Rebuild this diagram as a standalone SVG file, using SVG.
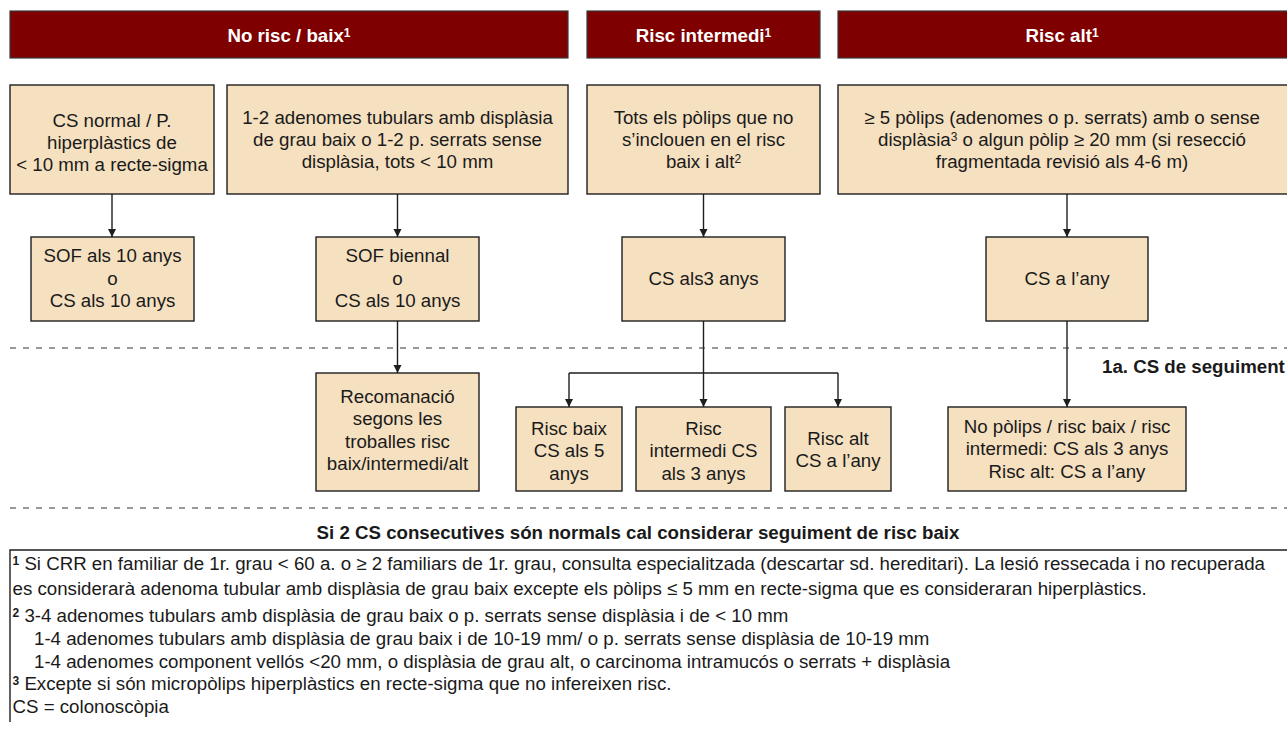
<svg xmlns="http://www.w3.org/2000/svg" width="1287" height="731" viewBox="0 0 1287 731">
<defs>
<marker id="ah" markerUnits="userSpaceOnUse" markerWidth="9" markerHeight="9" refX="8" refY="4.5" orient="auto">
<path d="M0,0.5 L8,4.5 L0,8.5 z" fill="#1e1e1e"/>
</marker>
<style>
.hdr{fill:#7f0000;stroke:#3a3a3a;stroke-width:1.2}
.box{fill:#f5e0c0;stroke:#1e1e1e;stroke-width:1.4}
.t{font-family:"Liberation Sans",Arial,sans-serif;font-size:18.7px;fill:#1a1a1a;text-anchor:middle}
.ht{font-family:"Liberation Sans",Arial,sans-serif;font-size:18.7px;font-weight:bold;fill:#ffffff;text-anchor:middle}
.bt{font-family:"Liberation Sans",Arial,sans-serif;font-size:18.7px;font-weight:bold;fill:#1a1a1a}
.fn{font-family:"Liberation Sans",Arial,sans-serif;font-size:18.7px;fill:#1a1a1a}
.sup{font-size:12px}
.supb{font-size:12px;font-weight:bold}
.con{fill:none;stroke:#1e1e1e;stroke-width:1.4}
.dash{fill:none;stroke:#333333;stroke-width:1.2;stroke-dasharray:6 7}
</style>
</defs>
<rect width="1287" height="731" fill="#ffffff"/>

<g id="header-baix">
<rect class="hdr" x="10" y="11" width="558" height="47"/>
<text class="ht" x="289" y="42">No risc / baix<tspan class="sup" dy="-5">1</tspan></text>
</g>
<g id="header-intermedi">
<rect class="hdr" x="587" y="11" width="233" height="47"/>
<text class="ht" x="703.5" y="42">Risc intermedi<tspan class="sup" dy="-5">1</tspan></text>
</g>
<g id="header-alt">
<rect class="hdr" x="838" y="11" width="460" height="47"/>
<text class="ht" x="1062" y="42">Risc alt<tspan class="sup" dy="-5">1</tspan></text>
</g>

<g id="b1">
<rect class="box" x="10" y="85" width="204" height="109"/>
<text class="t" x="112" y="127">CS normal / P.</text>
<text class="t" x="112" y="149">hiperplàstics de</text>
<text class="t" x="112" y="171">&lt; 10 mm a recte-sigma</text>
</g>
<g id="b2">
<rect class="box" x="227" y="85" width="341" height="109"/>
<text class="t" x="397.5" y="124">1-2 adenomes tubulars amb displàsia</text>
<text class="t" x="397.5" y="146">de grau baix o 1-2 p. serrats sense</text>
<text class="t" x="397.5" y="168">displàsia, tots &lt; 10 mm</text>
</g>
<g id="b3">
<rect class="box" x="587" y="85" width="233" height="109"/>
<text class="t" x="703.5" y="124">Tots els pòlips que no</text>
<text class="t" x="703.5" y="146">s’inclouen en el risc</text>
<text class="t" x="703.5" y="168">baix i alt<tspan class="sup" dy="-5">2</tspan></text>
</g>
<g id="b4">
<rect class="box" x="838" y="85" width="460" height="109"/>
<text class="t" x="1062" y="124">≥ 5 pòlips (adenomes o p. serrats) amb o sense</text>
<text class="t" x="1062" y="146">displàsia<tspan class="sup" dy="-5">3</tspan><tspan dy="5"> o algun pòlip ≥ 20 mm (si resecció</tspan></text>
<text class="t" x="1062" y="168">fragmentada revisió als 4-6 m)</text>
</g>

<g id="sof1">
<rect class="box" x="31" y="237" width="163" height="84"/>
<text class="t" x="112.5" y="262">SOF als 10 anys</text>
<text class="t" x="112.5" y="285">o</text>
<text class="t" x="112.5" y="307">CS als 10 anys</text>
</g>
<g id="sof2">
<rect class="box" x="316" y="237" width="163" height="84"/>
<text class="t" x="397.5" y="262">SOF biennal</text>
<text class="t" x="397.5" y="285">o</text>
<text class="t" x="397.5" y="307">CS als 10 anys</text>
</g>
<g id="cs3">
<rect class="box" x="622" y="237" width="163" height="84"/>
<text class="t" x="703.5" y="284.5">CS als3 anys</text>
</g>
<g id="csany">
<rect class="box" x="986" y="237" width="162" height="84"/>
<text class="t" x="1067" y="284.5">CS a l’any</text>
</g>

<g id="recomanacio">
<rect class="box" x="316" y="373" width="163" height="118"/>
<text class="t" x="397.5" y="403">Recomanació</text>
<text class="t" x="397.5" y="425">segons les</text>
<text class="t" x="397.5" y="448">troballes risc</text>
<text class="t" x="397.5" y="470">baix/intermedi/alt</text>
</g>
<g id="riscbaix">
<rect class="box" x="516" y="407" width="106" height="84"/>
<text class="t" x="569" y="435">Risc baix</text>
<text class="t" x="569" y="457">CS als 5</text>
<text class="t" x="569" y="480">anys</text>
</g>
<g id="riscintermedi">
<rect class="box" x="636" y="407" width="135" height="84"/>
<text class="t" x="703.5" y="435">Risc</text>
<text class="t" x="703.5" y="457">intermedi CS</text>
<text class="t" x="703.5" y="480">als 3 anys</text>
</g>
<g id="riscalt">
<rect class="box" x="785" y="407" width="106" height="84"/>
<text class="t" x="838" y="445">Risc alt</text>
<text class="t" x="838" y="467">CS a l’any</text>
</g>
<g id="nopolips">
<rect class="box" x="948" y="407" width="238" height="84"/>
<text class="t" x="1067" y="433">No pòlips / risc baix / risc</text>
<text class="t" x="1067" y="455">intermedi: CS als 3 anys</text>
<text class="t" x="1067" y="478">Risc alt: CS a l’any</text>
</g>

<g id="connectors">
<path class="con" d="M112,194 V237" marker-end="url(#ah)"/>
<path class="con" d="M397.5,194 V237" marker-end="url(#ah)"/>
<path class="con" d="M703.5,194 V237" marker-end="url(#ah)"/>
<path class="con" d="M1067,194 V237" marker-end="url(#ah)"/>
<path class="con" d="M397.5,321 V373" marker-end="url(#ah)"/>
<path class="con" d="M703.5,321 V407" marker-end="url(#ah)"/>
<path class="con" d="M569,373 H838"/>
<path class="con" d="M569,373 V407" marker-end="url(#ah)"/>
<path class="con" d="M838,373 V407" marker-end="url(#ah)"/>
<path class="con" d="M1067,321 V407" marker-end="url(#ah)"/>
</g>

<g id="separators">
<path class="dash" d="M10,348 H1287"/>
<path class="dash" d="M10,508 H1287"/>
</g>
<text class="bt" x="1102" y="373">1a. CS de seguiment</text>
<text class="bt" x="638" y="539" text-anchor="middle">Si 2 CS consecutives són normals cal considerar seguiment de risc baix</text>

<g id="footnotes">
<path d="M10,722 V550 H1300" fill="none" stroke="#1e1e1e" stroke-width="1.4"/>
<text class="fn" x="12.5" y="570"><tspan class="supb" dy="-5">1</tspan><tspan dy="5"> Si CRR en familiar de 1r. grau &lt; 60 a. o ≥ 2 familiars de 1r. grau, consulta especialitzada (descartar sd. hereditari). La lesió ressecada i no recuperada</tspan></text>
<text class="fn" x="12.5" y="595">es considerarà adenoma tubular amb displàsia de grau baix excepte els pòlips ≤ 5 mm en recte-sigma que es consideraran hiperplàstics.</text>
<text class="fn" x="12.5" y="622"><tspan class="supb" dy="-5">2</tspan><tspan dy="5"> 3-4 adenomes tubulars amb displàsia de grau baix o p. serrats sense displàsia i de &lt; 10 mm</tspan></text>
<text class="fn" x="34" y="645">1-4 adenomes tubulars amb displàsia de grau baix i de 10-19 mm/ o p. serrats sense displàsia de 10-19 mm</text>
<text class="fn" x="34" y="667.5">1-4 adenomes component vellós &lt;20 mm, o displàsia de grau alt, o carcinoma intramucós o serrats + displàsia</text>
<text class="fn" x="12.5" y="690"><tspan class="supb" dy="-5">3</tspan><tspan dy="5"> Excepte si són micropòlips hiperplàstics en recte-sigma que no infereixen risc.</tspan></text>
<text class="fn" x="12.5" y="713">CS = colonoscòpia</text>
</g>
</svg>
